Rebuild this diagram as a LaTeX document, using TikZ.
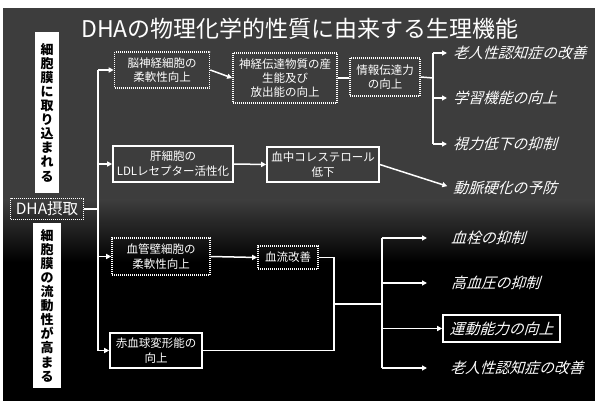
\documentclass[tikz,border=0pt]{standalone}
\usepackage{fontspec}
\setmainfont{Noto Sans CJK JP}
\newfontfamily\jpit{Noto Sans CJK JP}[FakeSlant=0.3]
\usetikzlibrary{arrows.meta}
\newcommand\fsz[2]{\fontsize{#1}{#2}\selectfont}
\begin{document}
\begin{tikzpicture}[x=1pt,y=-1pt,
  ln/.style={draw=white, line width=1.5pt},
  arr/.style={ln, -{Triangle[length=5pt,width=5pt]}},
  dotbox/.style={draw=white!50, line width=1.6pt, dash pattern=on 1pt off 1pt, text=white, align=center, inner sep=2pt, font=\fsz{11.5}{14.5}},
  solbox/.style={draw=white, line width=1.6pt, text=white, align=center, inner sep=2pt, font=\fsz{11.5}{15}},
  outc/.style={text=white, anchor=west, inner sep=0pt, font=\jpit\fsz{14.8}{16}},
  vbox/.style={fill=white, text=black, align=center, inner sep=0pt, font=\bfseries\fsz{13}{14.1}},
]
\useasboundingbox (0,0) rectangle (595,401);
% background
\fill[white] (0,0) rectangle (595,401);
\fill[black] (3,8) rectangle (595,401);
\fill[black!76] (3,8) rectangle (595,200);
\shade[top color=black!76, bottom color=black] (3,200) rectangle (595,262);

% title
\node[text=white, font=\fsz{23}{25}] (title) at (300,29) {DHAの物理化学的性質に由来する生理機能};

% vertical labels
\node[vbox, minimum width=24pt, minimum height=161pt] (v1) at (47,112.5)
  {細\\胞\\膜\\に\\取\\り\\込\\ま\\れ\\る};
\node[vbox, minimum width=28pt, minimum height=165pt] (v2) at (47,305.5)
  {細\\胞\\膜\\の\\流\\動\\性\\が\\高\\ま\\る};

% DHA intake
\node[dotbox, font=\fsz{15.5}{18}, minimum width=73pt, minimum height=21pt] (dha) at (47,209) {DHA摂取};
\coordinate (t) at (98,209);

% boxes
\node[dotbox, minimum width=95pt, minimum height=36pt] (nb) at (162,70) {脳神経細胞の\\柔軟性向上};
\node[dotbox, minimum width=104pt, minimum height=50pt, font=\fsz{11.5}{13.8}] (nt) at (285,78) {神経伝達物質の産\\生能及び\\放出能の向上};
\node[dotbox, minimum width=70pt, minimum height=38pt] (info) at (385,77) {情報伝達力\\の向上};
\node[solbox, minimum width=120pt, minimum height=36pt] (liver) at (173,164) {肝細胞の\\LDLレセプター活性化};
\node[solbox, minimum width=112pt, minimum height=35pt] (chol) at (323,164.5) {血中コレステロール\\低下};
\node[dotbox, minimum width=98pt, minimum height=37pt] (vessel) at (161,256.5) {血管壁細胞の\\柔軟性向上};
\node[dotbox, minimum width=60pt, minimum height=23pt] (flow) at (288,257.5) {血流改善};
\node[solbox, minimum width=92pt, minimum height=35pt] (rbc) at (156,350.5) {赤血球変形能の\\向上};

% outcomes
\node[outc] (o1) at (453,53) {老人性認知症の改善};
\node[outc] (o2) at (453,98) {学習機能の向上};
\node[outc] (o3) at (453,144) {視力低下の抑制};
\node[outc] (o4) at (453,188) {動脈硬化の予防};
\node[outc] (o5) at (451,238) {血栓の抑制};
\node[outc] (o6) at (451,283) {高血圧の抑制};
\node[solbox, font=\jpit\fsz{14.8}{16}, minimum width=117pt, minimum height=27pt] (o7) at (501.5,328.5) {運動能力の向上};
\node[outc] (o8) at (450,368) {老人性認知症の改善};

% trunk from DHA
\draw[ln] (dha.east) -- (t);
\draw[ln] (t |- nb) -- (t |- rbc);
\draw[arr] (t |- nb) -- (nb.west);
\draw[arr] (t |- liver) -- (liver.west);
\draw[arr] (t |- vessel) -- (vessel.west);
\draw[arr] (t |- rbc) -- (rbc.west);

% brain branch
\draw[arr] (nb.east) -- (nt.west);
\draw[ln] (nt.east) -- (nt.east -| info.west);
\coordinate (j1) at (433,78);
\draw[ln] (info.east) -- (j1);
\draw[ln] (j1 |- o1) -- (j1 |- o3);
\draw[arr, shorten >=6pt] (j1 |- o1) -- (o1.west);
\draw[arr, shorten >=6pt] (j1 |- o2) -- (o2.west);
\draw[arr, shorten >=6pt] (j1 |- o3) -- (o3.west);

% liver branch
\draw[arr] (liver.east) -- (chol.west);
\draw[arr, shorten >=6pt] (chol.east) -- (o4.west);

% vessel / rbc branch
\draw[arr] (vessel.east) -- (flow.west);
\coordinate (k) at (334,304);
\coordinate (j2) at (382,304);
\draw[ln] (flow.east) -| (k);
\draw[ln] (rbc.east) -| (k);
\draw[ln] (k) -- (j2);
\draw[ln] (j2 |- o5) -- (j2 |- o8);
\draw[arr, shorten >=24pt] (j2 |- o5) -- (o5.west);
\draw[arr, shorten >=24pt] (j2 |- o6) -- (o6.west);
\draw[arr] (j2 |- o7) -- (o7.west);
\draw[arr, shorten >=23pt] (j2 |- o8) -- (o8.west);
\end{tikzpicture}
\end{document}
